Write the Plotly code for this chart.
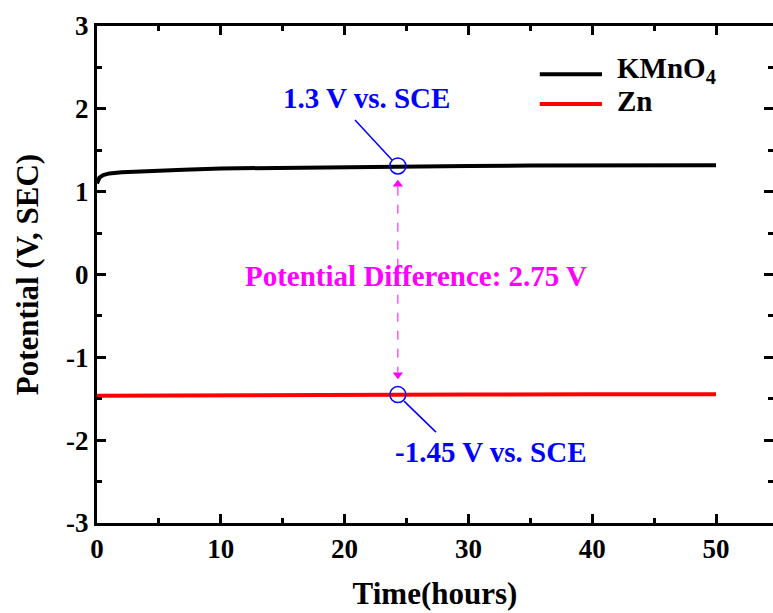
import plotly.graph_objects as go

# ---- data ----
t_kmno4 = [0, 0.2, 0.5, 1, 2, 4, 7, 10, 15, 20, 25, 30, 35, 40, 45, 50]
v_kmno4 = [1.10, 1.17, 1.20, 1.22, 1.235, 1.25, 1.265, 1.28, 1.29, 1.30, 1.305, 1.31, 1.315, 1.317, 1.319, 1.32]
t_zn = [0, 10, 20, 28.3, 28.5, 28.7, 30, 40, 50]
v_zn = [-1.465, -1.46, -1.455, -1.45, -1.44, -1.45, -1.45, -1.447, -1.445]

marker_t = [24.3, 24.3]
marker_v = [1.31, -1.45]

arrow_t = [24.3, 24.3]
arrow_v = [1.09, -1.21]

x_tickvals = [0, 10, 20, 30, 40, 50]
x_ticktext = ["0", "10", "20", "30", "40", "50"]
y_tickvals = [-3, -2, -1, 0, 1, 2, 3]
y_ticktext = ["-3", "-2", "-1", "0", "1", "2", "3"]

FONT = "Liberation Serif"
BLUE = "#0000ff"
MAG = "#ff00ff"

fig = go.Figure()
fig.add_trace(go.Scatter(x=t_kmno4, y=v_kmno4, mode="lines", name="KMnO<sub>4</sub>",
                         line=dict(color="black", width=4), showlegend=False))
fig.add_trace(go.Scatter(x=t_zn, y=v_zn, mode="lines", name="Zn",
                         line=dict(color="red", width=4), showlegend=False))
fig.add_trace(go.Scatter(x=marker_t, y=marker_v, mode="markers", showlegend=False,
                         marker=dict(symbol="circle-open", size=16, color=BLUE,
                                     line=dict(width=1.5, color=BLUE))))

# callout lines
fig.add_shape(type="line", x0=20.84, y0=1.865, x1=23.83, y1=1.382,
              line=dict(color=BLUE, width=1.5))
fig.add_shape(type="line", x0=24.8, y0=-1.529, x1=27.38, y1=-1.903,
              line=dict(color=BLUE, width=1.5))
# dashed vertical double arrow
fig.add_shape(type="line", x0=24.3, y0=1.06, x1=24.3, y1=-1.18,
              line=dict(color=MAG, width=1, dash="dash"))
fig.add_trace(go.Scatter(x=arrow_t, y=arrow_v, mode="markers", showlegend=False,
                         marker=dict(symbol=["triangle-up", "triangle-down"], size=9,
                                     color=MAG, line=dict(width=0))))

# text annotations
fig.add_annotation(x=21.77, y=2.13, text="<b>1.3 V vs. SCE</b>", showarrow=False,
                   font=dict(family=FONT, size=29, color=BLUE))
fig.add_annotation(x=31.8, y=-2.145, text="<b>-1.45 V vs. SCE</b>", showarrow=False,
                   font=dict(family=FONT, size=29, color=BLUE))
fig.add_annotation(x=25.77, y=-0.02, text="<b>Potential Difference: 2.75 V</b>", showarrow=False,
                   font=dict(family=FONT, size=29, color=MAG))

# manual legend
fig.add_shape(type="line", xref="paper", yref="paper", x0=0.655, x1=0.747, y0=0.903, y1=0.903,
              line=dict(color="black", width=4))
fig.add_shape(type="line", xref="paper", yref="paper", x0=0.655, x1=0.747, y0=0.843, y1=0.843,
              line=dict(color="red", width=4))
fig.add_annotation(xref="paper", yref="paper", x=0.766, y=0.912, xanchor="left", yanchor="middle",
                   text="<b>KMnO<sub>4</sub></b>", showarrow=False,
                   font=dict(family=FONT, size=29, color="black"))
fig.add_annotation(xref="paper", yref="paper", x=0.766, y=0.849, xanchor="left", yanchor="middle",
                   text="<b>Zn</b>", showarrow=False,
                   font=dict(family=FONT, size=29, color="black"))

tickfont = dict(family=FONT, size=27, color="black", weight="bold")
axis_common = dict(showline=True, linecolor="black", linewidth=3, mirror="ticks",
                   ticks="inside", ticklen=9, tickwidth=2.5, tickcolor="black",
                   showgrid=False, zeroline=False, tickfont=tickfont)

fig.update_xaxes(range=[0, 54.6], tickvals=x_tickvals, ticktext=x_ticktext,
                 minor=dict(ticks="inside", ticklen=5, tickwidth=2.5, tickcolor="black",
                            tickvals=[5, 15, 25, 35, 45], showgrid=False),
                 title=dict(text="<b>Time(hours)</b>", font=dict(family=FONT, size=31, color="black"),
                            standoff=19),
                 **axis_common)
fig.update_yaxes(range=[-3, 3], tickvals=y_tickvals, ticktext=y_ticktext,
                 minor=dict(ticks="inside", ticklen=5, tickwidth=2.5, tickcolor="black",
                            tickvals=[-2.5, -1.5, -0.5, 0.5, 1.5, 2.5], showgrid=False),
                 title=dict(text="<b>Potential (V, SEC)</b>", font=dict(family=FONT, size=31, color="black"),
                            standoff=19),
                 **axis_common)

fig.update_layout(width=773, height=613, margin=dict(l=97, r=0, t=26, b=90, autoexpand=False),
                  plot_bgcolor="white", paper_bgcolor="white",
                  font=dict(family=FONT, color="black"))

fig.write_html("out.html", config={"displayModeBar": False},
               post_script="document.body.style.margin='0';")
